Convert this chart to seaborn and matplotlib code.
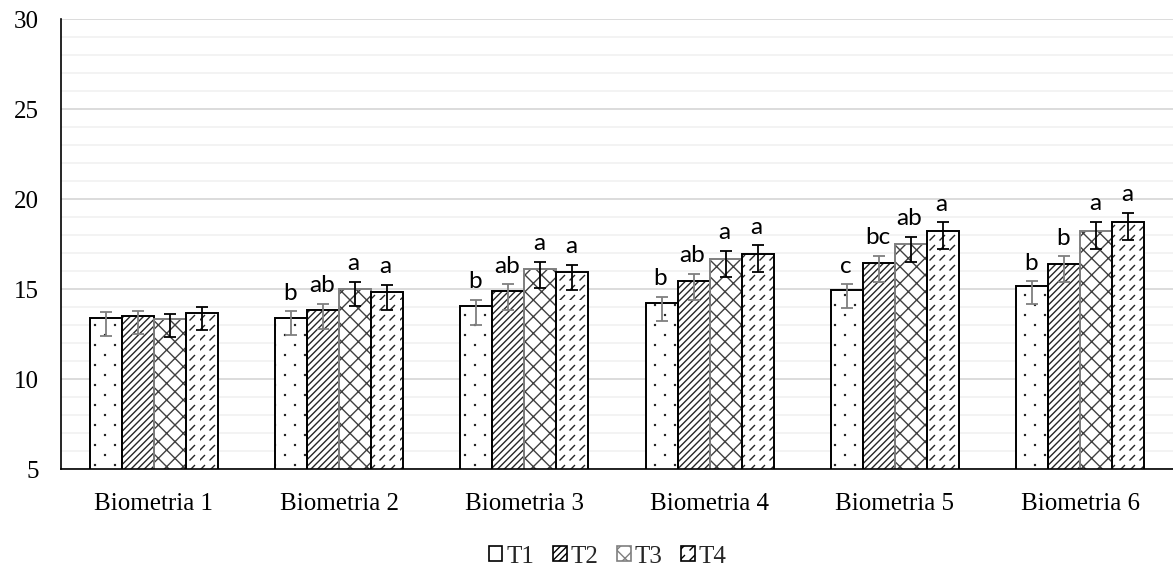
import warnings
warnings.filterwarnings('ignore')
import numpy as np
import pandas as pd
import matplotlib
matplotlib.use('Agg')
import matplotlib.pyplot as plt
from matplotlib import hatch as mhatch
from matplotlib.path import Path
from matplotlib.patches import Patch
from matplotlib.ticker import MultipleLocator
import seaborn as sns

# ---------------- data ----------------
categories = ['Biometria 1', 'Biometria 2', 'Biometria 3',
              'Biometria 4', 'Biometria 5', 'Biometria 6']
treatments = ['T1', 'T2', 'T3', 'T4']

t1_mean = [13.39, 13.39, 14.03, 14.22, 14.96, 15.14]
t2_mean = [13.52, 13.81, 14.87, 15.42, 16.44, 16.39]
t3_mean = [13.33, 15.02, 16.13, 16.68, 17.50, 18.24]
t4_mean = [13.68, 14.85, 15.92, 16.96, 18.24, 18.74]

t1_err_hi = [0.33, 0.37, 0.37, 0.32, 0.30, 0.28]
t2_err_hi = [0.28, 0.36, 0.39, 0.41, 0.41, 0.42]
t3_err_hi = [0.28, 0.39, 0.39, 0.44, 0.41, 0.48]
t4_err_hi = [0.33, 0.39, 0.44, 0.46, 0.46, 0.50]

t1_err_lo = [0.98, 0.96, 1.02, 1.02, 1.03, 1.00]
t2_err_lo = [1.00, 1.02, 1.02, 1.02, 1.06, 1.00]
t3_err_lo = [1.00, 0.98, 1.07, 1.02, 1.02, 1.02]
t4_err_lo = [0.98, 1.00, 0.98, 1.02, 1.04, 1.04]

t1_letters = ['', 'b', 'b', 'b', 'c', 'b']
t2_letters = ['', 'ab', 'ab', 'ab', 'bc', 'b']
t3_letters = ['', 'a', 'a', 'a', 'ab', 'a']
t4_letters = ['', 'a', 'a', 'a', 'a', 'a']

means = [t1_mean, t2_mean, t3_mean, t4_mean]
errs_hi = [t1_err_hi, t2_err_hi, t3_err_hi, t4_err_hi]
errs_lo = [t1_err_lo, t2_err_lo, t3_err_lo, t4_err_lo]
letters = [t1_letters, t2_letters, t3_letters, t4_letters]


# ---------------- custom hatch patterns ----------------
class _CustomHatch(mhatch.HatchPatternBase):
    char = None

    def __init__(self, hatch, density):
        if hatch is not None and self.char in hatch:
            self._v, self._c = self.build()
            self.num_vertices = len(self._v)
        else:
            self.num_vertices = 0

    def set_vertices_and_codes(self, vertices, codes):
        vertices[:] = self._v
        codes[:] = self._c


def _diag(n, up=True):
    c = np.arange(-n, n + 1) / n
    v = np.empty((2 * len(c), 2))
    if up:
        v[0::2, 0] = c
        v[0::2, 1] = 0.0
        v[1::2, 0] = c + 1
        v[1::2, 1] = 1.0
    else:
        v[0::2, 0] = c
        v[0::2, 1] = 1.0
        v[1::2, 0] = c + 1
        v[1::2, 1] = 0.0
    codes = np.tile([Path.MOVETO, Path.LINETO], len(c)).astype(Path.code_type)
    return v, codes


class DenseDiag(_CustomHatch):
    char = 'q'

    def build(self):
        return _diag(15, True)


class Cross(_CustomHatch):
    char = 'k'

    def build(self):
        v1, c1 = _diag(6, True)
        v2, c2 = _diag(6, False)
        return np.vstack([v1, v2]), np.concatenate([c1, c2])


class DashDiag(_CustomHatch):
    char = 'd'

    def build(self):
        n = 10
        g = np.arange(n) / n
        xx, yy = np.meshgrid(g, g)
        xx = xx.ravel()
        yy = yy.ravel()
        L = 0.45 / n
        v = np.empty((2 * len(xx), 2))
        v[0::2, 0] = xx
        v[0::2, 1] = yy
        v[1::2, 0] = xx + L
        v[1::2, 1] = yy + L
        codes = np.tile([Path.MOVETO, Path.LINETO], len(xx)).astype(Path.code_type)
        return v, codes


class SparseDots(_CustomHatch):
    char = 'p'

    def build(self):
        cols, rows = 10, 5
        s = 0.004
        sq = np.array([[-s, -s], [s, -s], [s, s], [-s, s], [-s, -s]])
        verts = []
        codes = []
        for c in range(cols):
            for r in range(rows):
                x = (c + 0.5) / cols
                y = (r + 0.25 + 0.5 * (c % 2)) / rows
                verts.append(sq + [x, y])
                codes.extend([Path.MOVETO, Path.LINETO, Path.LINETO,
                              Path.LINETO, Path.CLOSEPOLY])
        return np.vstack(verts), np.array(codes, dtype=Path.code_type)


mhatch._hatch_types.extend([DenseDiag, Cross, DashDiag, SparseDots])

# ---------------- styles ----------------
hatches = ['p', 'q', 'k', 'd']
edge_colors = ['#000000', '#000000', '#7f7f7f', '#000000']
hatch_colors = ['#262626', '#262626', '#404040', '#262626']
err_colors = ['#7f7f7f', '#7f7f7f', '#000000', '#000000']

# ---------------- plot ----------------
sns.set_theme(style='white')
plt.rcParams['font.family'] = ['Liberation Serif', 'DejaVu Serif']
plt.rcParams['hatch.linewidth'] = 1.0

df = pd.DataFrame({
    'Biometria': np.tile(categories, len(treatments)),
    'Tratamento': np.repeat(treatments, len(categories)),
    'Valor': np.concatenate([np.array(m) for m in means]),
})

fig = plt.figure(figsize=(11.73, 5.68), dpi=100)
ax = fig.add_axes([61 / 1173, 1 - 469 / 568, 1112 / 1173, 450 / 568])

sns.barplot(data=df, x='Biometria', y='Valor', hue='Tratamento',
            order=categories, hue_order=treatments,
            palette=dict(zip(treatments, ['white'] * 4)), saturation=1,
            width=0.69, errorbar=None, legend=False, ax=ax)

bar_containers = list(ax.containers)
for i, cont in enumerate(bar_containers):
    xs, ys = [], []
    for j, bar in enumerate(cont.patches):
        bar.set_edgecolor(hatch_colors[i])
        bar.set_hatch(hatches[i])
        bar.set_linewidth(0)
        bar.set_zorder(2)
        # outline drawn separately so hatch colour and edge colour can differ
        ax.add_patch(plt.Rectangle((bar.get_x(), bar.get_y()), bar.get_width(),
                                   bar.get_height(), fill=False,
                                   edgecolor=edge_colors[i], linewidth=1.4,
                                   zorder=2.5))
        xs.append(bar.get_x() + bar.get_width() / 2)
        ys.append(bar.get_height())
    ax.errorbar(xs, ys, yerr=[errs_lo[i], errs_hi[i]], fmt='none',
                ecolor=err_colors[i], elinewidth=1.3, capsize=4.2,
                capthick=1.3, zorder=3)
    for x, y, eh, lab in zip(xs, ys, errs_hi[i], letters[i]):
        if lab:
            ax.annotate(lab, (x, y + eh), xytext=(-1, 8.5),
                        textcoords='offset points', ha='center',
                        va='baseline', fontsize=17.5, family='Lato',
                        color='black', zorder=4)

ax.set_ylim(5, 30)
ax.set_yticks([5, 10, 15, 20, 25, 30])
ax.yaxis.set_minor_locator(MultipleLocator(1))
ax.set_axisbelow(True)
ax.grid(which='major', axis='y', color='#d9d9d9', linewidth=1.3)
ax.grid(which='minor', axis='y', color='#f2f2f2', linewidth=1.3)
ax.grid(axis='x', visible=False)
ax.set_xlim(-0.5, 5.5)
ax.set_xlabel('')
ax.set_ylabel('')
ax.tick_params(axis='y', which='both', length=0, labelsize=18, pad=16,
               labelcolor='black')
ax.tick_params(axis='x', which='both', length=0, labelsize=18, pad=17,
               labelcolor='black')
for side in ['top', 'right']:
    ax.spines[side].set_visible(False)
for side in ['left', 'bottom']:
    ax.spines[side].set_color('black')
    ax.spines[side].set_linewidth(1.2)
    ax.spines[side].set_zorder(5)

handles = [Patch(facecolor='white', edgecolor=edge_colors[i], hatch=hatches[i],
                 linewidth=1.2) for i in range(4)]
leg = fig.legend(handles, treatments, loc='center',
                 bbox_to_anchor=(0.518, 0.02), ncol=4, frameon=False,
                 fontsize=18, handlelength=0.55, handleheight=0.55,
                 handletextpad=0.15, columnspacing=0.75, borderpad=0)

fig.savefig('out.png', dpi=100)
